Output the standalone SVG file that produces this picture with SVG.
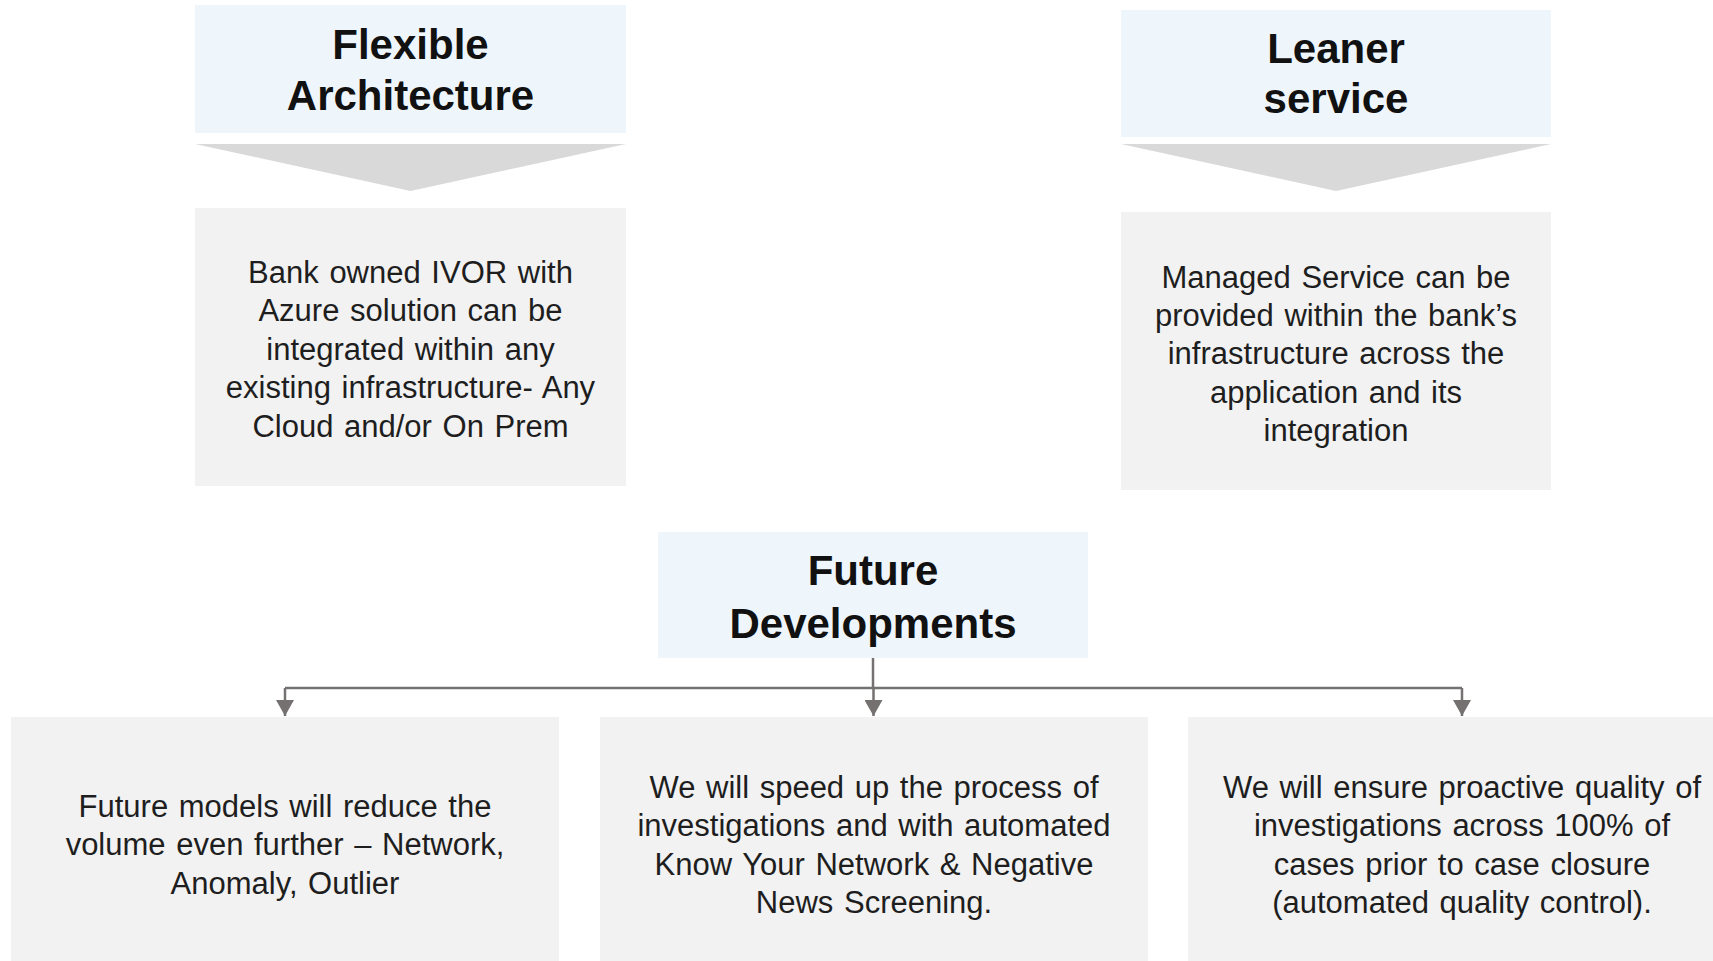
<svg xmlns="http://www.w3.org/2000/svg" width="1713" height="961" viewBox="0 0 1713 961">
  <style>
    .head { fill: #EEF6FC; }
    .card { fill: #F2F2F2; }
    .chev { fill: #D9D9D9; }
    .title { font-family: "Liberation Sans", Arial, sans-serif; font-weight: bold; font-size: 42px; fill: #111111; text-anchor: middle; }
    .body { font-family: "Liberation Sans", Arial, sans-serif; font-size: 31px; word-spacing: 2px; fill: #1E1E1E; text-anchor: middle; }
    .link { fill: none; stroke: #767171; stroke-width: 2.5; }
  </style>
  <defs>
    <marker id="tri" markerUnits="userSpaceOnUse" markerWidth="18" markerHeight="18" viewBox="0 0 18 18" refX="16" refY="9" orient="auto">
      <path d="M0,0 L16,9 L0,18 Z" fill="#767171"/>
    </marker>
  </defs>

  <!-- Flexible Architecture column -->
  <g id="flexible-architecture">
    <rect class="head" x="195" y="5" width="431" height="128"/>
    <text class="title" x="410.5" y="59">Flexible</text>
    <text class="title" x="410.5" y="110">Architecture</text>
  </g>
  <g id="flexible-chevron">
    <polygon class="chev" points="195,144 626,144 410.5,191"/>
  </g>
  <g id="flexible-detail">
    <rect class="card" x="195" y="208" width="431" height="278"/>
    <text class="body" x="410.5" y="283">Bank owned IVOR  with</text>
    <text class="body" x="410.5" y="321">Azure solution can be</text>
    <text class="body" x="410.5" y="360">integrated within any</text>
    <text class="body" x="410.5" y="398">existing infrastructure- Any</text>
    <text class="body" x="410.5" y="437">Cloud and/or On Prem</text>
  </g>

  <!-- Leaner service column -->
  <g id="leaner-service">
    <rect class="head" x="1121" y="10" width="430" height="127"/>
    <text class="title" x="1336" y="63">Leaner</text>
    <text class="title" x="1336" y="113">service</text>
  </g>
  <g id="leaner-chevron">
    <polygon class="chev" points="1121,144 1551,144 1336,191"/>
  </g>
  <g id="leaner-detail">
    <rect class="card" x="1121" y="212" width="430" height="278"/>
    <text class="body" x="1336" y="288">Managed Service can be</text>
    <text class="body" x="1336" y="326">provided within the bank’s</text>
    <text class="body" x="1336" y="364">infrastructure across the</text>
    <text class="body" x="1336" y="403">application and its</text>
    <text class="body" x="1336" y="441">integration</text>
  </g>

  <!-- Future Developments hub -->
  <g id="future-developments">
    <rect class="head" x="658" y="532" width="430" height="126"/>
    <text class="title" x="873" y="585">Future</text>
    <text class="title" x="873" y="638">Developments</text>
  </g>

  <!-- Branches -->
  <g id="future-models">
    <rect class="card" x="11" y="717" width="548" height="250"/>
    <text class="body" x="285" y="817">Future models will reduce the</text>
    <text class="body" x="285" y="855">volume even further – Network,</text>
    <text class="body" x="285" y="894">Anomaly, Outlier</text>
  </g>
  <g id="speed-up">
    <rect class="card" x="600" y="717" width="548" height="250"/>
    <text class="body" x="874" y="798">We will speed up the process of</text>
    <text class="body" x="874" y="836">investigations and with automated</text>
    <text class="body" x="874" y="875">Know Your Network &amp; Negative</text>
    <text class="body" x="874" y="913">News Screening.</text>
  </g>
  <g id="quality">
    <rect class="card" x="1188" y="717" width="548" height="250"/>
    <text class="body" x="1462" y="798">We will ensure proactive quality of</text>
    <text class="body" x="1462" y="836">investigations across 100% of</text>
    <text class="body" x="1462" y="875">cases prior to case closure</text>
    <text class="body" x="1462" y="913">(automated quality control).</text>
  </g>

  <!-- Connectors -->
  <g id="connectors">
    <path class="link" d="M873,658 V688"/>
    <path class="link" d="M285,688 H1462"/>
    <path class="link" d="M285,688 V716" marker-end="url(#tri)"/>
    <path class="link" d="M873.5,688 V716" marker-end="url(#tri)"/>
    <path class="link" d="M1462,688 V716" marker-end="url(#tri)"/>
  </g>
</svg>
